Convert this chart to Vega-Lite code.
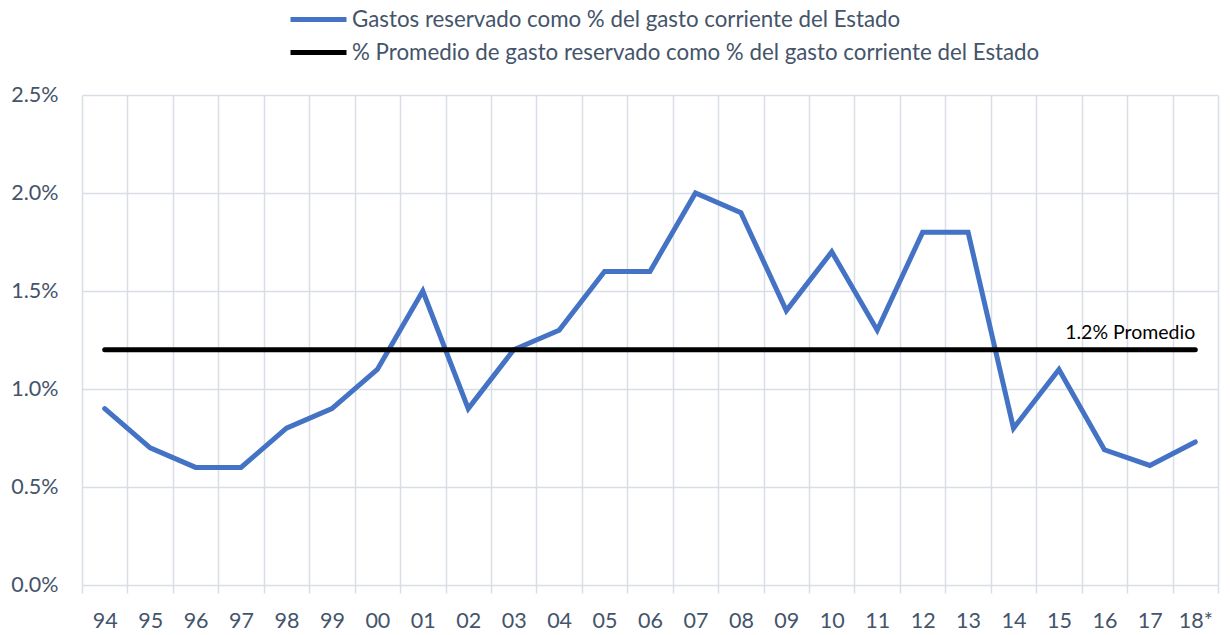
{
  "$schema": "https://vega.github.io/schema/vega-lite/v6.json",
  "width": 1136,
  "height": 490,
  "autosize": "none",
  "padding": {"left": 82, "top": 95, "right": 12, "bottom": 50},
  "background": "white",
  "config": {
    "view": {"stroke": null},
    "font": "Lato",
    "axis": {"labelFont": "Lato", "labelColor": "#44546A", "labelFontSize": 21.5, "gridColor": "#D9DEE6", "gridWidth": 1.5, "tickColor": "#D9DEE6", "tickWidth": 1.5}
  },
  "datasets": {
    "serie": [
      {"anio": "94", "valor": 0.009, "serie": "Gastos reservado como % del gasto corriente del Estado"},
      {"anio": "95", "valor": 0.007, "serie": "Gastos reservado como % del gasto corriente del Estado"},
      {"anio": "96", "valor": 0.006, "serie": "Gastos reservado como % del gasto corriente del Estado"},
      {"anio": "97", "valor": 0.006, "serie": "Gastos reservado como % del gasto corriente del Estado"},
      {"anio": "98", "valor": 0.008, "serie": "Gastos reservado como % del gasto corriente del Estado"},
      {"anio": "99", "valor": 0.009, "serie": "Gastos reservado como % del gasto corriente del Estado"},
      {"anio": "00", "valor": 0.011, "serie": "Gastos reservado como % del gasto corriente del Estado"},
      {"anio": "01", "valor": 0.015, "serie": "Gastos reservado como % del gasto corriente del Estado"},
      {"anio": "02", "valor": 0.009, "serie": "Gastos reservado como % del gasto corriente del Estado"},
      {"anio": "03", "valor": 0.012, "serie": "Gastos reservado como % del gasto corriente del Estado"},
      {"anio": "04", "valor": 0.013, "serie": "Gastos reservado como % del gasto corriente del Estado"},
      {"anio": "05", "valor": 0.016, "serie": "Gastos reservado como % del gasto corriente del Estado"},
      {"anio": "06", "valor": 0.016, "serie": "Gastos reservado como % del gasto corriente del Estado"},
      {"anio": "07", "valor": 0.020, "serie": "Gastos reservado como % del gasto corriente del Estado"},
      {"anio": "08", "valor": 0.019, "serie": "Gastos reservado como % del gasto corriente del Estado"},
      {"anio": "09", "valor": 0.014, "serie": "Gastos reservado como % del gasto corriente del Estado"},
      {"anio": "10", "valor": 0.017, "serie": "Gastos reservado como % del gasto corriente del Estado"},
      {"anio": "11", "valor": 0.013, "serie": "Gastos reservado como % del gasto corriente del Estado"},
      {"anio": "12", "valor": 0.018, "serie": "Gastos reservado como % del gasto corriente del Estado"},
      {"anio": "13", "valor": 0.018, "serie": "Gastos reservado como % del gasto corriente del Estado"},
      {"anio": "14", "valor": 0.008, "serie": "Gastos reservado como % del gasto corriente del Estado"},
      {"anio": "15", "valor": 0.011, "serie": "Gastos reservado como % del gasto corriente del Estado"},
      {"anio": "16", "valor": 0.0069, "serie": "Gastos reservado como % del gasto corriente del Estado"},
      {"anio": "17", "valor": 0.0061, "serie": "Gastos reservado como % del gasto corriente del Estado"},
      {"anio": "18*", "valor": 0.0073, "serie": "Gastos reservado como % del gasto corriente del Estado"},
      {"anio": "94", "valor": 0.012, "serie": "% Promedio de gasto reservado como % del gasto corriente del Estado"},
      {"anio": "18*", "valor": 0.012, "serie": "% Promedio de gasto reservado como % del gasto corriente del Estado"}
    ],
    "etiqueta": [
      {"anio": "18*", "valor": 0.012, "texto": "1.2% Promedio"}
    ]
  },
  "layer": [
    {
      "data": {"name": "serie"},
      "mark": {"type": "line", "strokeWidth": 5, "strokeCap": "round", "strokeJoin": "miter"},
      "encoding": {
        "x": {
          "field": "anio", "type": "ordinal",
          "scale": {"domain": ["94","95","96","97","98","99","00","01","02","03","04","05","06","07","08","09","10","11","12","13","14","15","16","17","18*"], "paddingInner": 0, "paddingOuter": 0},
          "axis": {"title": null, "labelAngle": 0, "tickBand": "extent", "grid": true, "domain": false, "tickSize": 8, "labelPadding": 17}
        },
        "y": {
          "field": "valor", "type": "quantitative",
          "scale": {"domain": [0, 0.025], "nice": false, "zero": true},
          "axis": {"title": null, "format": ".1%", "values": [0, 0.005, 0.01, 0.015, 0.02, 0.025], "domain": false, "ticks": false, "labelPadding": 24}
        },
        "color": {
          "field": "serie", "type": "nominal",
          "scale": {
            "domain": ["Gastos reservado como % del gasto corriente del Estado", "% Promedio de gasto reservado como % del gasto corriente del Estado"],
            "range": ["#4472C4", "#000000"]
          },
          "legend": {
            "title": null, "orient": "none", "legendX": 234, "legendY": -92, "direction": "vertical",
            "symbolType": "M-3,0H1", "symbolStrokeWidth": 5, "symbolSize": 784,
            "labelFont": "Lato", "labelFontSize": 22.3, "labelColor": "#44546A", "labelOffset": 3,
            "rowPadding": 5, "labelLimit": 1000
          }
        }
      }
    },
    {
      "data": {"name": "etiqueta"},
      "mark": {"type": "text", "align": "right", "baseline": "bottom", "dy": -7, "fontSize": 19.5, "font": "Lato", "color": "#000000"},
      "encoding": {
        "x": {"field": "anio", "type": "ordinal"},
        "y": {"field": "valor", "type": "quantitative", "scale": {"domain": [0, 0.025], "nice": false}},
        "text": {"field": "texto"}
      }
    }
  ]
}
